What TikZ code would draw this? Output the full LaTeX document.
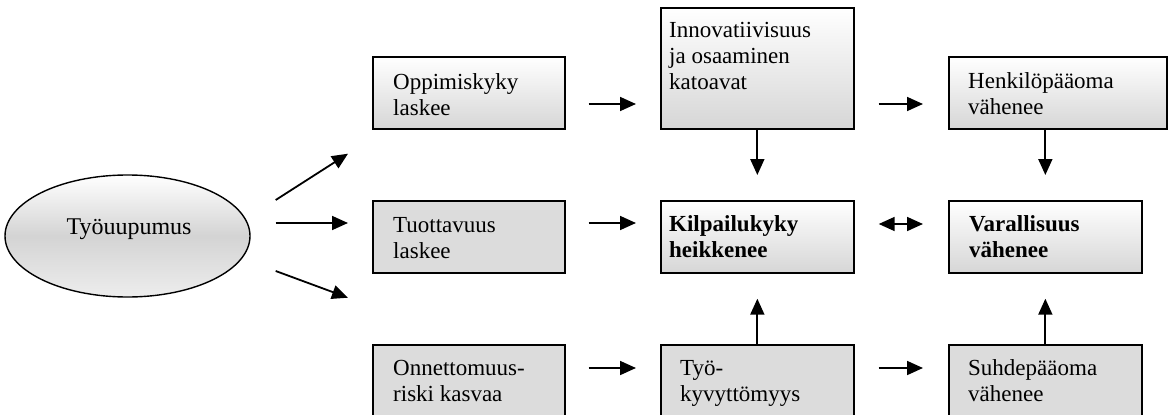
\documentclass[tikz,border=0pt]{standalone}
\usepackage{fontspec}
\setmainfont{Liberation Serif}
\usetikzlibrary{arrows.meta,calc,shapes.geometric}
\definecolor{boxgray}{RGB}{220,220,220}
\definecolor{gradgray}{RGB}{214,214,214}
\newcommand{\lns}[1]{\parbox[t]{230pt}{\raggedright #1}}
\tikzset{
  box/.style={draw=black, line width=1.7pt, rectangle, inner sep=0pt, anchor=north west},
  gradbox/.style={box, top color=white, bottom color=gradgray},
  flatbox/.style={box, fill=boxgray},
  lbl/.style={anchor=base west, inner sep=0pt, font=\fontsize{23}{26}\selectfont},
  arr/.style={-{Triangle[length=16pt,width=14pt]}, line width=1.8pt},
  dblarr/.style={{Triangle[length=16pt,width=14pt]}-{Triangle[length=16pt,width=14pt]}, line width=1.8pt},
}
\begin{document}
\begin{tikzpicture}[x=1pt,y=-1pt]
\useasboundingbox (0,0) rectangle (1171,415);
% ellipse
\node[ellipse, draw=black, line width=1.4pt, minimum width=245pt, minimum height=122pt, inner sep=0pt,
      top color=white, bottom color=black!7, middle color=black!17] (ell) at (127.5,236) {};
\node[anchor=base, inner sep=0pt, font=\fontsize{24}{26}\selectfont] (elltxt) at (129,234) {Työuupumus};
% boxes
\node[gradbox, minimum width=192pt, minimum height=72pt] (opp) at (372,56) {};
\node[flatbox, minimum width=192pt, minimum height=72pt] (tuo) at (372,200) {};
\node[flatbox, minimum width=192pt, minimum height=90pt] (onn) at (372,344) {};
\node[gradbox, minimum width=193pt, minimum height=121pt] (inn) at (660,7) {};
\node[gradbox, minimum width=193pt, minimum height=72pt] (kil) at (660,200) {};
\node[flatbox, minimum width=193pt, minimum height=90pt] (tyo) at (660,344) {};
\node[gradbox, minimum width=218pt, minimum height=72pt] (hen) at (948,56) {};
\node[gradbox, minimum width=193pt, minimum height=72pt] (var) at (948,200) {};
\node[flatbox, minimum width=193pt, minimum height=90pt] (suh) at (948,344) {};
% labels
\node[lbl] (oppt) at (393,89) {\lns{Oppimiskyky\\laskee}};
\node[lbl] (tuot) at (393,232) {\lns{Tuottavuus\\laskee}};
\node[lbl] (onnt) at (393,375) {\lns{Onnettomuus-\\riski kasvaa}};
\node[lbl] (innt) at (669,37) {\lns{Innovatiivisuus\\ja osaaminen\\katoavat}};
\node[lbl] (kilt) at (669,231) {\lns{\textbf{Kilpailukyky}\\\textbf{heikkenee}}};
\node[lbl] (tyot) at (680,375) {\lns{Työ-\\kyvyttömyys}};
\node[lbl] (hent) at (968,88) {\lns{Henkilöpääoma\\vähenee}};
\node[lbl] (vart) at (969,231) {\lns{\textbf{Varallisuus}\\\textbf{vähenee}}};
\node[lbl] (suht) at (968,375) {\lns{Suhdepääoma\\vähenee}};
% arrows from ellipse
\draw[arr] ($(ell.east)+(25,-36)$) -- ($(opp.south west)+(-24,24)$);
\draw[arr] ($(ell.east)+(25,-13)$) -- ($(tuo.north west)+(-24,23)$);
\draw[arr] ($(ell.east)+(25,35)$) -- ($(tuo.south west)+(-24,24)$);
% column 1 -> column 2
\draw[arr] ($(opp.north east)+(23,48)$) -- ($(opp.north east -| inn.west)+(-24,48)$);
\draw[arr] ($(tuo.north east)+(23,23)$) -- ($(kil.north west)+(-24,23)$);
\draw[arr] ($(onn.north east)+(23,24)$) -- ($(tyo.north west)+(-24,24)$);
% column 2 -> column 3
\draw[arr] ($(inn.east |- hen.north)+(24,48)$) -- ($(hen.north west)+(-25,48)$);
\draw[dblarr] ($(kil.north east)+(24,24)$) -- ($(var.north west)+(-25,24)$);
\draw[arr] ($(tyo.north east)+(24,24)$) -- ($(suh.north west)+(-25,24)$);
% vertical arrows
\draw[arr] (inn.south) -- ($(kil.north)+(0,-25)$);
\draw[arr] (hen.south -| var.north) -- ($(var.north)+(0,-25)$);
\draw[arr] (tyo.north) -- ($(kil.south)+(0,25)$);
\draw[arr] (suh.north) -- ($(var.south)+(0,25)$);
\end{tikzpicture}
\end{document}
